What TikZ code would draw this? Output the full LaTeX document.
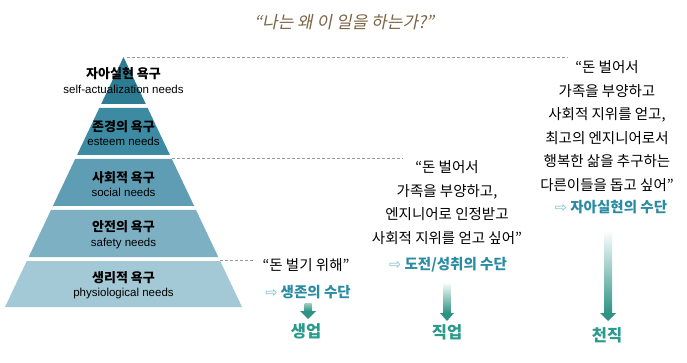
\documentclass[tikz,border=0pt]{standalone}
\usepackage{fontspec}
\usetikzlibrary{calc}
\newfontfamily\kr{Noto Sans CJK KR}
\newfontfamily\krit[FakeSlant=0.2]{Noto Sans CJK KR}
\newfontfamily\en{Liberation Sans}
\newfontfamily\dv{DejaVu Sans}
\definecolor{Lone}{HTML}{2C7D94}
\definecolor{Ltwo}{HTML}{3C8BA3}
\definecolor{Lthree}{HTML}{5E9DB4}
\definecolor{Lfour}{HTML}{7DB0C3}
\definecolor{Lfive}{HTML}{A4C9D6}
\definecolor{titlec}{HTML}{7B6545}
\definecolor{meansc}{HTML}{2A8CA3}
\definecolor{arrlight}{HTML}{7CC0CF}
\definecolor{jobc}{HTML}{2A9A8C}
\definecolor{arrc}{HTML}{2E9384}
\definecolor{dashc}{HTML}{9A9A9A}
\newcommand\wa{{\dv\mdseries\color{arrlight}⇨}}
\newcommand\pyrlab[4]{%
  \node[pyrtext] (#1) at (123.5,#2) {{\bfseries\fontsize{13}{14.5}\selectfont\kr #3}\\{\en #4}};
}
\newcommand\gradarrow[6]{%
  \shade[top color=#6,bottom color=arrc] let \p1=(#1),\p2=(#2) in (\x1-#3,\y1) rectangle (\x1+#3,\y2+#5);
  \fill[arrc] let \p1=(#1),\p2=(#2) in (\x1-#4,\y2+#5) -- (\x1+#4,\y2+#5) -- (\x1,\y2) -- cycle;
}
\begin{document}
\begin{tikzpicture}[x=1pt,y=-1pt,
  pyrtext/.style={align=center,inner sep=0pt,font=\fontsize{11.5}{14.5}\selectfont},
  body/.style={align=center,inner sep=0pt,font=\kr\fontsize{14.5}{23.5}\selectfont},
  means/.style={inner sep=0pt,text=meansc,font=\kr\bfseries\fontsize{14.5}{17}\selectfont},
  job/.style={inner sep=0pt,text=jobc,font=\kr\bfseries\fontsize{16.5}{18}\selectfont},
  titlestyle/.style={inner sep=0pt,text=titlec,font=\krit\fontsize{17}{19}\selectfont},
  dashline/.style={draw=dashc,line width=0.8pt,dash pattern=on 3pt off 2pt}]
\useasboundingbox[fill=white] (0,0) rectangle (687,363);
% pyramid
\foreach \t/\b/\c in {57/104/Lone,108/155/Ltwo,159/206/Lthree,210/257/Lfour,261/307/Lfive}{
  \fill[\c] ({123.5-(\t-57)*0.474},\t) -- ({123.5+(\t-57)*0.474},\t) -- ({123.5+(\b-57)*0.474},\b) -- ({123.5-(\b-57)*0.474},\b) -- cycle;
}
\pyrlab{p1}{80.5}{자아실현 욕구}{self-actualization needs}
\pyrlab{p2}{133}{존경의 욕구}{esteem needs}
\pyrlab{p3}{184}{사회적 욕구}{social needs}
\pyrlab{p4}{234.5}{안전의 욕구}{safety needs}
\pyrlab{p5}{285}{생리적 욕구}{physiological needs}
% title
\node[titlestyle] (title) at (344,22) {“나는 왜 이 일을 하는가?”};
% block 1
\node[body] (q1) at (306,265) {“돈 벌기 위해”};
\node[means] (m1) at (308,292) {\wa\ 생존의 수단};
\node[job] (j1) at (306,331) {생업};
% block 2
\node[body] (q2) at (447,202.5) {“돈 벌어서\\가족을 부양하고,\\엔지니어로 인정받고\\사회적 지위를 얻고 싶어”};
\node[means] (m2) at (448,265) {\wa\ 도전/성취의 수단};
\node[job] (j2) at (447,332) {직업};
% block 3
\node[body] (q3) at (607,126) {“돈 벌어서\\가족을 부양하고\\사회적 지위를 얻고,\\최고의 엔지니어로서\\행복한 삶을 추구하는\\다른이들을 돕고 싶어”};
\node[means] (m3) at (611,207) {\wa\ 자아실현의 수단};
\node[job] (j3) at (607,335) {천직};
% dashed leaders
\coordinate (apex) at (127,57);
\coordinate (d1) at (568,57);
\coordinate (g2) at (172,158);
\coordinate (d2) at (403,158);
\coordinate (g4) at (220,260);
\coordinate (d3) at (255,260);
\draw[dashline] (apex) -- (d1);
\draw[dashline] (g2) -- (d2);
\draw[dashline] (g4) -- (d3);
% arrows
\coordinate (a1t) at (308,303);
\coordinate (a1b) at (308,319);
\coordinate (a2t) at (447,282);
\coordinate (a2b) at (447,321);
\coordinate (a3t) at (608,230);
\coordinate (a3b) at (608,321);
\gradarrow{a1t}{a1b}{3.5pt}{8pt}{8pt}{arrc!45}
\gradarrow{a2t}{a2b}{3.5pt}{7pt}{8pt}{white}
\gradarrow{a3t}{a3b}{4pt}{8pt}{8pt}{white}
\end{tikzpicture}
\end{document}
